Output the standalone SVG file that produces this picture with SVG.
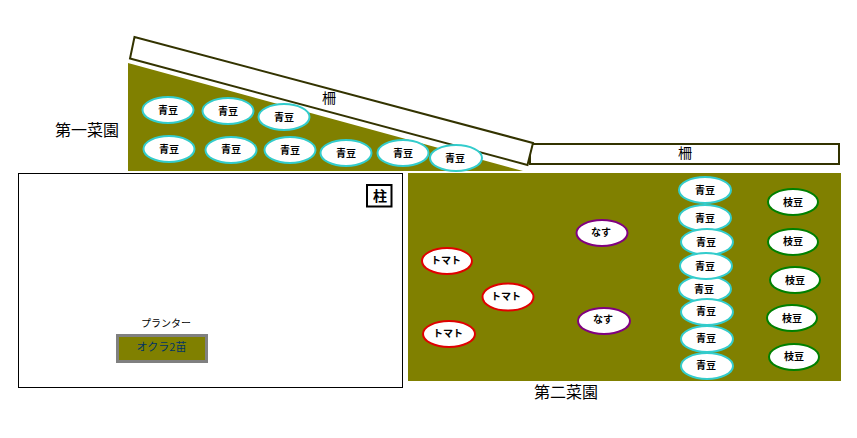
<svg xmlns="http://www.w3.org/2000/svg" width="857" height="438" viewBox="0 0 857 438">
<style>
text{font-family:"Noto Sans CJK JP","Noto Sans CJK SC",sans-serif;text-anchor:middle;fill:#000}
.s{font-size:10px;font-weight:700}
.m{font-size:14px}
.l{font-size:16px}
.fence{fill:#fff;stroke:#333300;stroke-width:2}
.field{fill:#808000}
ellipse{fill:#fff;stroke-width:2}
.b ellipse{stroke:#33cccc}
.g ellipse{stroke:#008000}
.r ellipse{stroke:#e00000}
.p ellipse{stroke:#800080}
</style>
<g id="field1"><polygon class="field" points="128,63 128,171 523,171"/></g>
<g id="field2"><rect class="field" x="408" y="173" width="433" height="208"/></g>
<g id="fence2"><rect class="fence" x="530" y="144" width="309" height="20"/><text class="m" x="685" y="158">柵</text></g>
<g id="fence1"><polygon class="fence" points="134.500,37 130,58.500 527.500,165 533,143"/><text class="m" x="329" y="103">柵</text></g>
<g id="plot"><rect x="18.500" y="173.500" width="384" height="214" fill="#fff" stroke="#000"/></g>
<g id="pillar"><rect x="367" y="185" width="24.500" height="21.500" fill="#fff" stroke="#000" stroke-width="2"/><text x="380" y="201" font-size="14" font-weight="700">柱</text></g>
<g id="planter"><rect x="117.500" y="335.500" width="89" height="26" fill="#808000" stroke="#808080" stroke-width="3"/><text x="161.500" y="351" font-size="11" style="fill:#003366">オクラ2苗</text></g>
<g id="label-planter"><text x="166" y="327" font-size="10">プランター</text></g>
<g id="label1"><text class="l" x="87" y="136">第一菜園</text></g>
<g id="label2"><text class="l" x="566" y="398">第二菜園</text></g>
<g id="n1" class="b"><ellipse cx="168" cy="110" rx="25.500" ry="13"/><text class="s" x="168" y="114">青豆</text></g>
<g id="n2" class="b"><ellipse cx="228" cy="111" rx="25.500" ry="13"/><text class="s" x="228" y="115">青豆</text></g>
<g id="n3" class="b"><ellipse cx="284" cy="117" rx="25.500" ry="13"/><text class="s" x="284" y="121">青豆</text></g>
<g id="n4" class="b"><ellipse cx="169" cy="149" rx="25.500" ry="13"/><text class="s" x="169" y="153">青豆</text></g>
<g id="n5" class="b"><ellipse cx="231" cy="150" rx="25.500" ry="13"/><text class="s" x="231" y="153">青豆</text></g>
<g id="n6" class="b"><ellipse cx="290" cy="150" rx="25.500" ry="13"/><text class="s" x="290" y="154">青豆</text></g>
<g id="n7" class="b"><ellipse cx="346" cy="153" rx="25.500" ry="13"/><text class="s" x="346" y="157">青豆</text></g>
<g id="n8" class="b"><ellipse cx="403" cy="153" rx="25.500" ry="13"/><text class="s" x="403" y="157">青豆</text></g>
<g id="n9" class="b"><ellipse cx="456" cy="158" rx="26" ry="13"/><text class="s" x="455" y="162">青豆</text></g>
<g id="c1" class="b"><ellipse cx="705" cy="190" rx="26" ry="13"/><text class="s" x="705" y="194">青豆</text></g>
<g id="c2" class="b"><ellipse cx="705" cy="218" rx="26" ry="13"/><text class="s" x="705" y="222">青豆</text></g>
<g id="c3" class="b"><ellipse cx="707" cy="242" rx="26" ry="13"/><text class="s" x="706" y="246">青豆</text></g>
<g id="c5" class="b"><ellipse cx="705" cy="289" rx="26" ry="13"/><text class="s" x="704" y="293">青豆</text></g>
<g id="c4" class="b"><ellipse cx="706" cy="266" rx="26" ry="13"/><text class="s" x="705" y="270">青豆</text></g>
<g id="c6" class="b"><ellipse cx="707" cy="312" rx="26" ry="13"/><text class="s" x="706" y="315">青豆</text></g>
<g id="c7" class="b"><ellipse cx="707" cy="339" rx="26" ry="13"/><text class="s" x="706" y="342">青豆</text></g>
<g id="c8" class="b"><ellipse cx="707" cy="366" rx="26" ry="13"/><text class="s" x="706" y="369">青豆</text></g>
<g id="e1" class="g"><ellipse cx="793" cy="202" rx="25" ry="13"/><text class="s" x="793" y="206">枝豆</text></g>
<g id="e2" class="g"><ellipse cx="793" cy="242" rx="25" ry="13"/><text class="s" x="793" y="245">枝豆</text></g>
<g id="e3" class="g"><ellipse cx="795" cy="280" rx="25" ry="13"/><text class="s" x="795" y="284">枝豆</text></g>
<g id="e4" class="g"><ellipse cx="792" cy="318" rx="25" ry="13"/><text class="s" x="792" y="322">枝豆</text></g>
<g id="e5" class="g"><ellipse cx="794" cy="357" rx="25" ry="13"/><text class="s" x="794" y="360">枝豆</text></g>
<g id="t1" class="r"><ellipse cx="447" cy="261" rx="25" ry="13"/><text class="s" x="446" y="264">トマト</text></g>
<g id="t2" class="r"><ellipse cx="508" cy="297" rx="25.500" ry="13.500"/><text class="s" x="506" y="300">トマト</text></g>
<g id="t3" class="r"><ellipse cx="449" cy="334" rx="26" ry="13"/><text class="s" x="448" y="337">トマト</text></g>
<g id="d1" class="p"><ellipse cx="602" cy="233" rx="25.500" ry="13"/><text class="s" x="601" y="236">なす</text></g>
<g id="d2" class="p"><ellipse cx="604" cy="321" rx="26" ry="13"/><text class="s" x="603" y="323">なす</text></g>
<g id="connectors"></g>
</svg>
